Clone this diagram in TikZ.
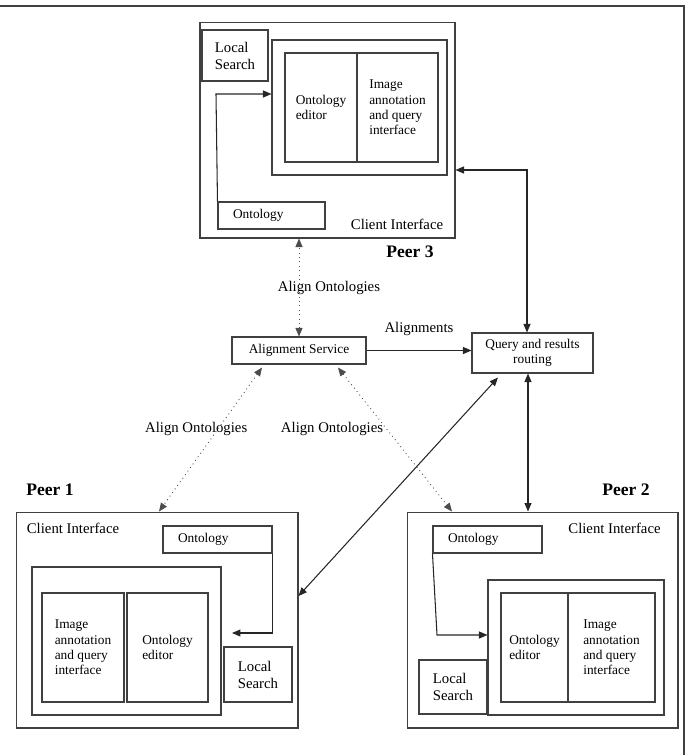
\documentclass[tikz,border=0pt]{standalone}
\usepackage{fontspec}
\setmainfont{Liberation Serif}
\usetikzlibrary{arrows.meta}
\newcommand\bigtxt{\fontsize{8.4}{9.7}\selectfont}
\newcommand\smalltxt{\fontsize{7.6}{8.7}\selectfont}
\newcommand\peertxt{\fontsize{10}{12}\selectfont\bfseries}

\begin{document}
\begin{tikzpicture}[x=0.02cm, y=-0.02cm, >={Triangle[length=0.17cm,width=0.14cm]},
    box/.style={draw=black!75, line width=0.6pt, inner sep=0pt, align=left, font=\smalltxt},
    conn/.style={black!85, line width=0.6pt},
    alignline/.style={black!70, line width=0.5pt, dotted},
    alignlabel/.style={text=black, font=\bigtxt}]
    \useasboundingbox (0,0) rectangle (687,755);
    \draw[black!75, line width=0.8pt] (0,6) -- (684,6) -- (684,755);

    \node[box, minimum width=5.1cm, minimum height=4.32cm] (p3) at (327.5,130) {};
    \node[box, font=\bigtxt, minimum width=1.32cm, minimum height=1.02cm] (p3search) at (235,55.5) {Local\\Search};
    \node[box, minimum width=3.5cm, minimum height=2.7cm] (p3client) at (359.5,107.5) {};
    \node[box, minimum width=1.44cm, minimum height=2.18cm] (p3editor) at (321,107.5) {Ontology\\editor};
    \node[box, minimum width=1.62cm, minimum height=2.18cm] (p3image) at (397.5,107.5) {Image\\annotation\\and query\\interface};
    \node[box, inner xsep=0.3cm, text width=1.54cm, minimum height=0.54cm] (p3onto) at (271.5,215.5) {Ontology};
    \node[font=\bigtxt] (p3ci) at (397,224) {Client Interface};
    \node[font=\peertxt] (p3name) at (410,252) {Peer 3};
    \coordinate (p3turn) at (216,94);
    \draw[conn, ->] (p3onto.north west) -- (p3turn) -- (p3turn -| p3client.west);

    \node[box, minimum width=5.64cm, minimum height=4.32cm] (p1) at (157,620) {};
    \node[box, inner xsep=0.3cm, text width=1.58cm, minimum height=0.54cm] (p1onto) at (217.5,539.5) {Ontology};
    \node[box, minimum width=3.78cm, minimum height=2.96cm] (p1client) at (126.5,641) {};
    \node[box, minimum width=1.64cm, minimum height=2.18cm] (p1image) at (83,647.5) {Image\\annotation\\and query\\interface};
    \node[box, minimum width=1.62cm, minimum height=2.18cm] (p1editor) at (167.5,647.5) {Ontology\\editor};
    \node[box, font=\bigtxt, minimum width=1.36cm, minimum height=1.1cm] (p1search) at (258,674.5) {Local\\Search};
    \node[font=\bigtxt] (p1ci) at (73,528) {Client Interface};
    \node[font=\peertxt] (p1name) at (50,490) {Peer 1};
    \coordinate (p1end) at (232,633);
    \draw[conn, ->] (p1onto.south east) |- (p1end);

    \node[box, minimum width=5.42cm, minimum height=4.32cm] (p2) at (542.5,620) {};
    \node[box, inner xsep=0.3cm, text width=1.58cm, minimum height=0.54cm] (p2onto) at (487.5,539.5) {Ontology};
    \node[box, minimum width=3.52cm, minimum height=2.7cm] (p2client) at (576,647.5) {};
    \node[box, minimum width=1.34cm, minimum height=2.18cm] (p2editor) at (534.5,647.5) {Ontology\\editor};
    \node[box, minimum width=1.74cm, minimum height=2.18cm] (p2image) at (611.5,647.5) {Image\\annotation\\and query\\interface};
    \node[box, font=\bigtxt, minimum width=1.36cm, minimum height=1.08cm] (p2search) at (453,687) {Local\\Search};
    \node[font=\bigtxt] (p2ci) at (614.5,528) {Client Interface};
    \node[font=\peertxt] (p2name) at (626,490) {Peer 2};
    \coordinate (p2turn) at (437,635);
    \draw[conn, ->] (p2onto.south west) -- (p2turn) -- (p2turn -| p2client.west);

    \node[box, align=center, minimum width=2.68cm, minimum height=0.54cm] (alignsvc) at (299,350.5) {Alignment Service};
    \node[box, align=center, minimum width=2.42cm, minimum height=0.8cm] (query) at (532.5,353) {Query and results\\routing};

    \draw[alignline, <->] (alignsvc.north) -- node[alignlabel, xshift=0.6cm] {Align Ontologies} (alignsvc.north |- p3.south);
    \draw[alignline, <->] ([xshift=-0.74cm, yshift=-0.06cm]alignsvc.south) -- node[alignlabel, pos=0.43, xshift=-0.43cm] {Align Ontologies} ([xshift=0.04cm]p1.north);
    \draw[alignline, <->] ([xshift=0.78cm, yshift=-0.06cm]alignsvc.south) -- node[alignlabel, pos=0.43, xshift=-1.1cm] {Align Ontologies} ([xshift=-1.81cm]p2.north);
    \draw[conn, ->] (alignsvc.east) -- node[alignlabel, above=0.16cm] {Alignments} (alignsvc.east -| query.west);
    \coordinate (qturn) at (527,170);
    \draw[conn, <->] (qturn |- query.north) -- (qturn) -- (qturn -| p3.east);
    \draw[conn, <->] ([xshift=-0.69cm, yshift=-0.08cm]query.south) -- ([yshift=0.48cm]p1.east);
    \draw[conn, <->] ([xshift=-0.09cm]query.south) -- ([xshift=-0.09cm]query.south |- p2.north);
\end{tikzpicture}
\end{document}
